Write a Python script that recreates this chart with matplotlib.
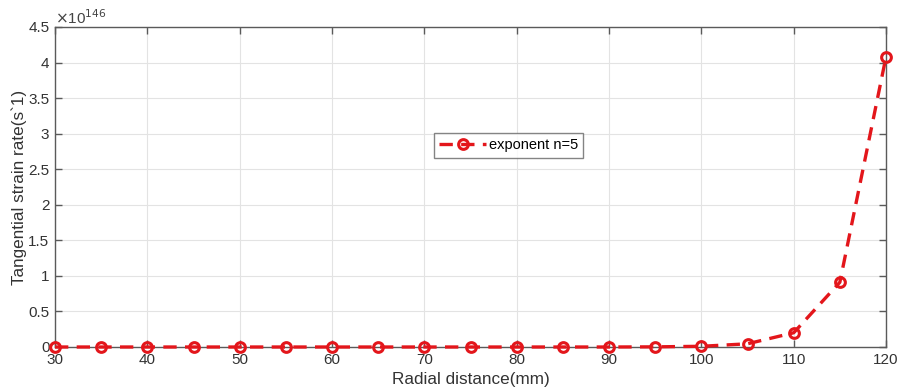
import matplotlib
matplotlib.use("Agg")
import matplotlib.pyplot as plt

plt.rcParams['font.family'] = ['Liberation Sans', 'DejaVu Sans']

# Radial distance (mm) and tangential strain rate, in units of 1e146 s^-1
radial_mm = [30, 35, 40, 45, 50, 55, 60, 65, 70, 75, 80, 85, 90, 95, 100, 105, 110, 115, 120]
strain_rate_e146 = [0.0, 0.0, 0.0, 0.0, 0.0, 0.0, 0.0, 0.0, 0.0, 0.0, 0.0, 0.0, 0.0, 0.002,
                    0.01, 0.045, 0.2, 0.91, 4.08]
x_ticks = [30, 40, 50, 60, 70, 80, 90, 100, 110, 120]
y_ticks = [0, 0.5, 1, 1.5, 2, 2.5, 3, 3.5, 4, 4.5]
y_tick_labels = ['0', '0.5', '1', '1.5', '2', '2.5', '3', '3.5', '4', '4.5']

axis_col = '#5a5a5a'
red = '#e3161b'

fig = plt.figure(figsize=(9.03, 3.89), dpi=100)
ax = fig.add_axes([55 / 903, 1 - 347 / 389, (886 - 55) / 903, (347 - 27) / 389])

ax.plot(radial_mm, strain_rate_e146, linestyle='--', color=red, linewidth=2.4,
        marker='o', markersize=7, markerfacecolor='none', markeredgewidth=2.2,
        dashes=(4, 2.5), label='exponent n=5', clip_on=False, zorder=5)

ax.set_xlim(30, 120)
ax.set_ylim(0, 4.5)
ax.set_xticks(x_ticks)
ax.set_yticks(y_ticks)
ax.set_yticklabels(y_tick_labels)
ax.grid(True, color='#e3e3e3', linewidth=0.8)
ax.set_axisbelow(True)

for s in ax.spines.values():
    s.set_color(axis_col)
    s.set_linewidth(1.0)
ax.tick_params(direction='in', top=True, right=True, length=5, width=1.0,
               colors=axis_col, labelcolor='#333333', labelsize=11, pad=4)

ax.set_xlabel('Radial distance(mm)', fontsize=12.3, color='#333333', labelpad=4)
ax.set_ylabel('Tangential strain rate(s`1)', fontsize=12.3, color='#333333', labelpad=1)

ax.text(0.0, 1.0, r'$\times$10$^{146}$', transform=ax.transAxes, fontsize=11,
        color='#444444', ha='left', va='bottom')

leg = ax.legend(loc='center', bbox_to_anchor=(0.546, 0.63), fontsize=10.5,
                frameon=True, fancybox=False, handlelength=3.2, borderpad=0.35,
                handletextpad=0.2, borderaxespad=0)
leg.get_frame().set_edgecolor('#666666')
leg.get_frame().set_linewidth(1.0)

fig.savefig('out.png', dpi=100)
